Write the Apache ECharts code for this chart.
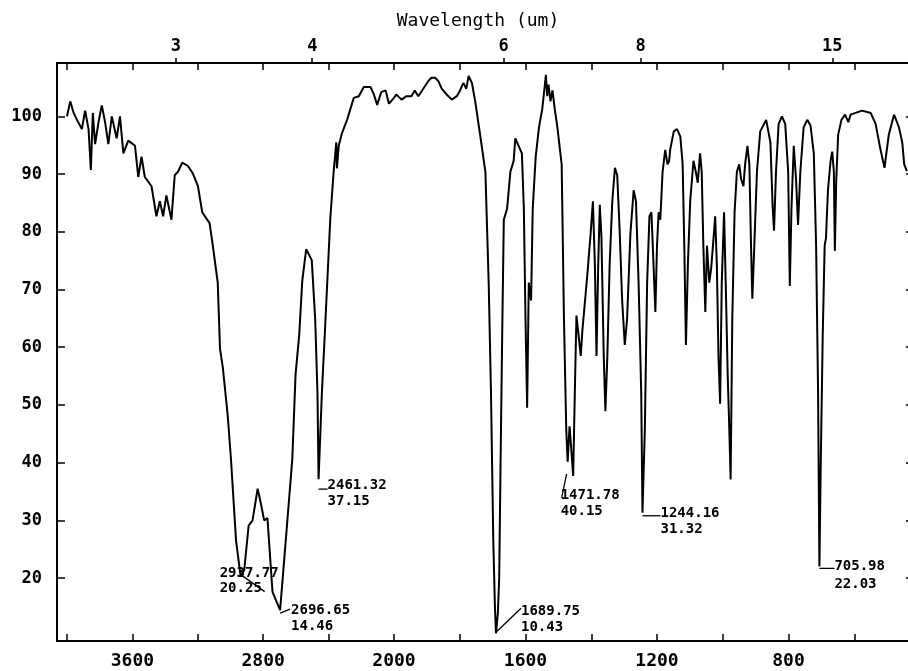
<!DOCTYPE html>
<html><head><meta charset="utf-8">
<script src="https://cdn.jsdelivr.net/npm/echarts@6/dist/echarts.min.js"></script>
<style>html,body{margin:0;padding:0;background:#fff}#c{width:908px;height:671px}</style>
</head><body><div id="c"></div>
<script>
// High wavenumber region (4000 -> 2000 cm-1), compressed scale
const highWavenumber = [4000,3980,3959,3939,3909,3889,3868,3854,3842,3828,3807,3787,3767,3747,3726,3696,3676,3655,3625,3584,3564,3544,3524,3483,3453,3432,3412,3392,3361,3341,3321,3295,3260,3230,3199,3173,3128,3108,3078,3064,3047,3017,2997,2966,2937.77,2916,2889,2865,2834,2814,2794,2774,2743,2696.65,2662,2622,2602,2580,2561,2537,2503,2482,2468,2461.32,2441,2421,2390,2369,2353,2349,2338,2318,2287,2246,2215,2185,2144,2123,2103,2078,2051,2031,2000];
const highTransmittance = [100.0,102.6,100.6,99.4,97.8,101,97.8,90.7,100.6,95.2,99,101.9,99,95.2,100,96.2,100,93.6,95.8,94.9,89.5,93,89.5,87.9,82.7,85.3,82.7,86.3,82.1,89.8,90.4,92,91.4,90.1,87.9,83.4,81.5,77.6,71.2,59.7,56.5,48.2,40.6,26.5,20.25,21.4,29.1,30,35.5,32.9,30,30.4,17.6,14.46,26.5,40.6,55.3,62,71.5,77,75.1,64.9,52.1,37.15,52.1,63.6,82.1,90.4,95.5,91,94.9,97.1,99.4,103.2,103.5,105.1,105.1,103.8,102,104.2,104.5,102.2,103.2];
// Low wavenumber region (2000 -> 440 cm-1), expanded scale
const lowWavenumber = [2000,1993,1977,1962,1947,1937,1926,1911,1896,1886,1875,1865,1855,1840,1824,1809,1799,1789,1780,1773,1763,1753,1738,1722,1712,1705,1698,1693,1689.75,1684,1680,1676,1671,1666,1656,1646,1636,1631,1621,1611,1605,1600,1595,1590,1583,1578,1569,1559,1549,1542,1538,1534,1530,1524,1518,1511,1503,1490,1483,1476,1471.78,1466,1461,1455,1450,1445,1439,1432,1427,1412,1402,1395,1389,1384,1379,1374,1369,1362,1357,1351,1344,1336,1328,1321,1314,1306,1298,1291,1281,1271,1264,1256,1248,1244.16,1237,1230,1223,1217,1212,1205,1200,1195,1190,1183,1175,1168,1163,1160,1149,1139,1129,1122,1117,1112,1106,1099,1089,1082,1076,1069,1064,1059,1053,1048,1041,1035,1028,1023,1018,1013,1008,1003,996,991,985,980,976,971,964,957,950,944,937,932,925,919,914,910,904,896,886,868,855,848,844,838,830,820,810,801,796,791,784,777,771,764,754,743,733,723,716,710,705.98,702,696,690,686,680,672,667,662,659,655,649,639,628,618,611,596,576,550,535,520,508,495,479,464,454,448,440];
const lowTransmittance = [103.2,103.8,102.9,103.5,103.5,104.5,103.5,104.8,106.1,106.7,106.7,106.1,104.8,103.8,102.9,103.5,104.5,105.8,104.8,107,105.8,102.6,96.8,90.4,71.2,52.1,26.5,15,10.43,14,20.1,39.3,61.7,82.1,84,90.4,92.3,96.2,94.9,93.6,84,64.9,49.5,71.2,68.1,84,93,98.1,101.3,105,107.2,103.5,105.5,102.6,104.5,101.3,98.1,91.7,64.9,45.7,40.15,46.3,42.5,37.7,52.1,65.5,62.3,58.5,62.9,72.5,79.6,85.3,74.4,58.5,73.8,84.7,79,58.5,48.9,58.5,74.4,85.3,91.1,89.8,80.8,68.1,60.4,64.9,79.6,87.2,85.3,71.2,52.1,31.32,45.7,71.2,82.7,83.4,76.4,66.1,77.6,83.4,82.1,90.4,94.2,91.7,92.3,94.2,97.4,97.8,96.5,91.7,77.6,60.4,74.4,85.3,92.3,90.4,88.5,93.6,90.4,77.6,66.1,77.6,71.2,73.8,78.9,82.7,74.4,58.5,50.2,71.2,83.4,71.2,55.3,45.7,37.1,64.9,83.4,90.4,91.7,89.1,87.9,91.7,94.9,91.7,77.6,68.4,77.6,90.4,97.4,99.4,95.5,84,80.2,90.4,98.7,100,98.7,90.4,70.6,84,94.9,89.1,81.2,90.4,98.1,99.4,98.4,93.6,77.6,52.1,22.03,39.3,61.7,77.6,78.9,87.2,92.3,93.9,90.4,76.7,88.5,96.8,99.4,100.3,99,100.3,100.6,101,100.6,98.7,94.2,91.1,96.8,100.3,98.1,95.5,91.7,90.5];

const wavenumberTicks = [4000,3600,3200,2800,2400,2000,1800,1600,1400,1200,1000,800,600,400];
const wavenumberLabels = [3600,2800,2000,1600,1200,800];
const wavelengthTicks = [3,4,6,8,15];
const transmittanceTicks = [20,30,40,50,60,70,80,90,100];
const peakWavenumber = [2937.77,2696.65,2461.32,1689.75,1471.78,1244.16,705.98];
const peakTransmittance = [20.25,14.46,37.15,10.43,40.15,31.32,22.03];

const FONT = '"DejaVu Sans Mono", monospace';
const BLACK = '#000';

const chart = echarts.init(document.getElementById('c'), null, {renderer:'canvas'});

const wlValues = wavelengthTicks.map(l => 10000 / l);
function wlFormatter(v){
  let best = wavelengthTicks[0], d = Infinity;
  wavelengthTicks.forEach(l => { const dd = Math.abs(10000/l - v); if (dd < d){d = dd; best = l;} });
  return String(best);
}
const plain = v => String(Math.round(v));
const hiRange = {min:2000, max:4061};
const loRange = {min:400, max:2000};

function bottomAxis(g, r, ticks, labels){
  return {type:'value', gridIndex:g, position:'bottom', min:r.min, max:r.max, inverse:true,
    axisLine:{show:true, onZero:false, lineStyle:{color:BLACK, width:2}},
    axisTick:{show:true, inside:true, length:7, customValues:ticks, lineStyle:{color:BLACK, width:1.5}},
    axisLabel:{show:labels.length>0, customValues:labels, formatter:plain, color:BLACK, fontFamily:FONT, fontWeight:'bold', fontSize:18, margin:11},
    splitLine:{show:false}};
}
function topAxis(g, r, ticks){
  return {type:'value', gridIndex:g, position:'top', min:r.min, max:r.max, inverse:true,
    axisLine:{show:true, onZero:false, lineStyle:{color:BLACK, width:2}},
    axisTick:{show:true, inside:true, length:7, customValues:ticks, lineStyle:{color:BLACK, width:1.5}},
    axisLabel:{show:false}, splitLine:{show:false}};
}
function wlAxis(g, r, vals){
  return {type:'value', gridIndex:g, position:'top', min:r.min, max:r.max, inverse:true,
    axisLine:{show:false, onZero:false},
    axisTick:{show:vals.length>0, inside:false, length:5, customValues:vals, lineStyle:{color:BLACK, width:1.5}},
    axisLabel:{show:vals.length>0, customValues:vals, formatter:wlFormatter, color:BLACK, fontFamily:FONT, fontWeight:'bold', fontSize:17, margin:8},
    splitLine:{show:false}};
}

const hiTicks = wavenumberTicks.filter(v => v >= 2000);
const loTicks = wavenumberTicks.filter(v => v < 2000);

const option = {
  animation:false,
  backgroundColor:'#fff',
  grid:[
    {left:57, top:63, width:337, height:578, outerBoundsMode:'none', containLabel:false},
    {left:394, top:63, width:526, height:578, outerBoundsMode:'none', containLabel:false}
  ],
  xAxis:[
    bottomAxis(0, hiRange, hiTicks, wavenumberLabels.filter(v => v >= 2000)),
    bottomAxis(1, loRange, loTicks, wavenumberLabels.filter(v => v < 2000)),
    topAxis(0, hiRange, hiTicks),
    topAxis(1, loRange, loTicks),
    wlAxis(0, hiRange, wlValues.filter(v => v >= 2000)),
    wlAxis(1, loRange, wlValues.filter(v => v < 2000))
  ],
  yAxis:[
    {type:'value', gridIndex:0, position:'left', min:9.1, max:109.25,
      axisLine:{show:true, onZero:false, lineStyle:{color:BLACK, width:2}},
      axisTick:{show:true, inside:true, length:8, customValues:transmittanceTicks, lineStyle:{color:BLACK, width:1.5}},
      axisLabel:{customValues:transmittanceTicks, formatter:plain, color:BLACK, fontFamily:FONT, fontWeight:'bold', fontSize:17, margin:15},
      splitLine:{show:false}},
    {type:'value', gridIndex:1, position:'right', min:9.1, max:109.25,
      axisLine:{show:true, onZero:false, lineStyle:{color:BLACK, width:2}},
      axisTick:{show:true, inside:true, length:14, customValues:transmittanceTicks, lineStyle:{color:BLACK, width:1.5}},
      axisLabel:{show:false}, splitLine:{show:false}}
  ],
  series:[
    {type:'line', xAxisIndex:0, yAxisIndex:0, showSymbol:false, silent:true, clip:true,
      data: highWavenumber.map((w,i) => [w, highTransmittance[i]]),
      lineStyle:{color:BLACK, width:2}},
    {type:'line', xAxisIndex:1, yAxisIndex:1, showSymbol:false, silent:true, clip:true,
      data: lowWavenumber.map((w,i) => [w, lowTransmittance[i]]),
      lineStyle:{color:BLACK, width:2}}
  ]
};
chart.setOption(option);

// annotation layout (pixel offsets relative to the peak point)
const annotLayout = [
  {dx:-21, dy1:-3, dy2:12, lead:[[0,-2],[24,15]]},
  {dx:11, dy1:0, dy2:16, lead:[[0,3],[10,-1]]},
  {dx:9, dy1:6, dy2:22, lead:[[0,10],[9,10]]},
  {dx:25, dy1:-22, dy2:-6, lead:[[0,-1],[25,-25]]},
  {dx:-7, dy1:34, dy2:50, lead:[[-1,12],[-6,36]]},
  {dx:18, dy1:1, dy2:17, lead:[[0,3],[18,3]]},
  {dx:15, dy1:0, dy2:18, lead:[[0,2],[15,2]]}
];
const graphics = [];
peakWavenumber.forEach((w, i) => {
  const g = w >= 2000 ? 0 : 1;
  const p = chart.convertToPixel({xAxisIndex:g, yAxisIndex:g}, [w, peakTransmittance[i]]);
  const L = annotLayout[i];
  const font = 'bold 14px "DejaVu Sans Mono"';
  graphics.push({type:'text', silent:true, z:10, style:{text:w.toFixed(2), x:p[0]+L.dx, y:p[1]+L.dy1, font, fill:BLACK, verticalAlign:'middle', align:'left'}});
  graphics.push({type:'text', silent:true, z:10, style:{text:peakTransmittance[i].toFixed(2), x:p[0]+L.dx, y:p[1]+L.dy2, font, fill:BLACK, verticalAlign:'middle', align:'left'}});
  graphics.push({type:'line', silent:true, z:10, shape:{x1:p[0]+L.lead[0][0], y1:p[1]+L.lead[0][1], x2:p[0]+L.lead[1][0], y2:p[1]+L.lead[1][1]}, style:{stroke:BLACK, lineWidth:1.3}});
});
graphics.push({type:'text', silent:true, style:{text:'Wavelength (um)', x:478, y:21, font:'18px "DejaVu Sans Mono"', fill:BLACK, verticalAlign:'middle', align:'center'}});
chart.setOption({graphic:graphics});
</script>
</body></html>
